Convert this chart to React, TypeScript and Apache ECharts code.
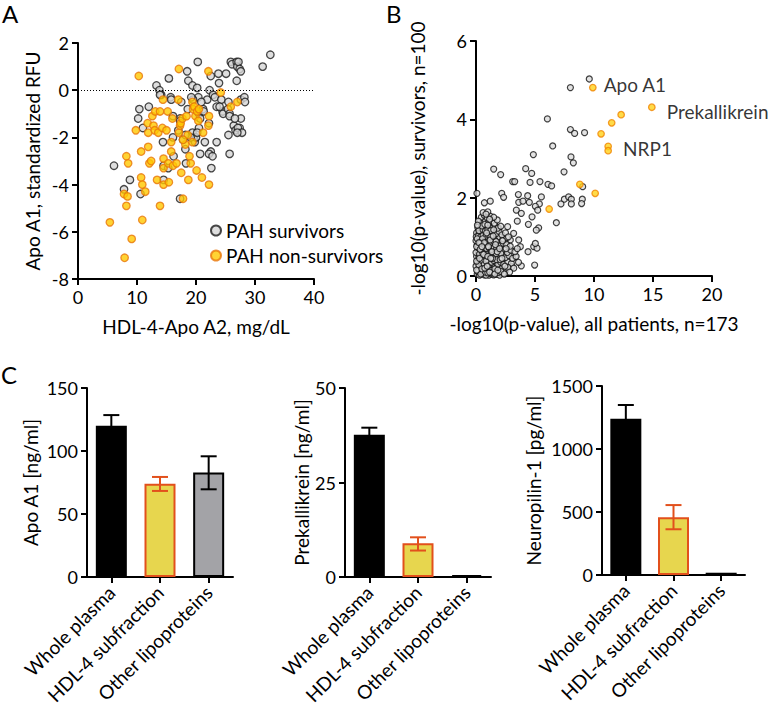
import React, { useEffect, useRef } from 'react';
import * as echarts from 'echarts';

// ---------- Panel A data ----------
const survivorsA: number[][] = [
  [6.1,-3.2],[8.8,-3.8],[7.8,-4.2],[10.6,-4.4],[10.4,-0.8],[10.2,-1.2],[12.0,-0.7],[11.0,-1.6],[13.3,0.2],[13.8,0.0],
  [14.1,-0.2],[15.4,0.5],[15.7,-0.3],[14.4,-2.2],[14.5,-3.2],[14.5,-3.8],[15.3,-3.3],[16.1,-2.0],[16.2,-2.8],[17.3,-1.2],
  [17.3,-1.3],[17.5,-0.5],[17.0,-1.7],[17.8,-2.1],[18.2,-2.5],[18.5,0.8],[18.7,0.4],[18.6,-0.8],[19.4,0.2],[19.4,-1.8],
  [19.7,-2.1],[19.8,-2.2],[20.0,-2.0],[20.2,0.1],[20.3,1.2],[20.4,-0.3],[20.5,-1.0],[20.7,-1.2],[20.5,-1.6],[19.5,-0.4],
  [19.2,-0.3],[17.3,-4.6],[18.3,-3.1],[21.2,-0.8],[21.3,-0.9],[21.5,-2.2],[21.9,-0.4],[22.3,0.0],[22.5,0.6],[22.2,-1.4],
  [22.5,-2.6],[22.2,-2.7],[22.6,-3.3],[22.8,-2.8],[22.9,-0.2],[23.2,-0.3],[23.5,-2.2],[23.8,0.7],[23.9,0.3],[24.3,-0.4],
  [24.5,-0.9],[24.6,-1.0],[25.1,0.7],[25.4,-0.8],[25.5,-0.5],[25.7,-1.0],[25.9,1.2],[26.1,1.1],[25.5,-1.9],[25.7,-1.1],
  [25.7,-2.7],[26.4,-1.5],[26.7,-1.7],[26.9,0.4],[26.9,1.2],[27.0,1.0],[27.2,1.2],[27.4,0.9],[27.6,0.8],[27.4,-1.6],
  [27.1,-1.6],[27.6,-1.2],[27.6,-0.4],[28.2,-0.3],[28.3,-0.5],[27.8,-1.8],[27.0,-1.8],[23.5,-0.7],[31.3,1.0],[32.6,1.5],
  [20.9,-0.5],[24.0,-0.7],[20.7,-2.7],[19.1,-2.0],[18.2,-1.9],[20.2,-1.8],[16.1,-1.1],[13.9,-0.2],[15.8,-0.4],[26.6,-1.2]
];
const nonSurvivorsA: number[][] = [
  [5.4,-5.6],[7.9,-7.1],[9.1,-6.3],[7.8,-4.4],[8.2,-4.9],[8.2,-2.8],[8.5,-3.1],[8.4,-4.5],[10.3,0.6],[9.8,-1.7],
  [10.7,-2.6],[10.7,-3.7],[10.9,-4.0],[11.4,-4.3],[10.9,-5.5],[11.8,-1.4],[11.9,-1.8],[11.9,-2.4],[12.1,-3.1],[12.4,-3.0],
  [12.6,-1.1],[12.8,-1.5],[13.0,-1.7],[13.1,-0.9],[13.6,-1.8],[13.4,-3.8],[13.9,-0.9],[13.9,-4.9],[14.4,-0.4],[14.3,-1.6],
  [14.5,-2.9],[14.5,-3.3],[14.5,-4.0],[15.2,-0.9],[15.0,-1.7],[15.3,-3.1],[15.4,-3.9],[15.8,-2.2],[16.0,-1.2],[15.8,-2.6],
  [16.1,-3.2],[16.7,-3.1],[17.1,0.9],[17.0,-0.4],[17.1,-1.8],[17.3,-1.5],[17.4,-1.4],[17.7,-1.2],[17.8,-4.6],[17.5,-3.5],
  [18.2,-2.3],[18.4,-1.1],[18.6,-1.9],[18.7,-3.8],[18.9,-2.8],[19.1,-3.1],[19.4,-0.5],[19.5,-0.8],[19.7,-0.7],[19.9,-1.1],
  [20.2,-0.9],[20.5,-0.8],[20.4,-1.3],[20.1,-3.4],[21.2,-1.8],[22.1,0.8],[22.2,-1.1],[22.1,-1.5],[22.2,-4.0],[21.0,-3.7],
  [24.2,-0.1],[25.9,-0.7],[27.0,-0.5],[17.8,-2.1],[19.4,-2.2]
];
const xTicksA = [0, 40, 10];
const yTicksA = [-8, 2, 2];

// ---------- Panel B data ----------
const otherProteinsB: number[][] = [
  [9.6,5.03],[8.0,4.81],[6.05,4.01],[8.0,3.74],[8.36,3.64],[9.2,3.66],[6.5,3.32],[4.86,3.1],[8.05,3.04],[8.25,2.89],
  [7.46,2.66],[1.5,2.73],[2.09,2.59],[4.21,2.74],[4.72,2.62],[4.58,2.39],[5.42,2.41],[6.1,2.34],[6.41,2.3],[3.11,2.41],
  [3.28,2.41],[2.18,2.11],[2.34,2.01],[3.59,2.08],[4.38,2.05],[4.52,1.88],[3.62,1.88],[3.98,1.91],[5.37,1.84],[5.03,1.78],
  [5.23,1.68],[5.54,2.02],[3.42,1.68],[3.84,1.6],[3.5,1.4],[4.44,1.32],[5.31,1.23],[5.11,1.17],[4.75,1.51],[4.89,0.75],
  [5.17,0.71],[5.03,0.83],[4.97,0.28],[3.84,0.26],[4.41,0.62],[6.81,1.36],[7.2,1.84],[7.49,1.96],[7.85,2.02],[8.08,1.96],
  [8.08,1.84],[9.01,1.96],[8.95,1.85],[9.04,2.28],[0.71,1.87],[1.21,1.91],[0.08,2.11],[2.68,1.26],[3.19,1.09],[1.92,1.22],
  [2.91,0.92],[3.62,0.92],[3.76,0.75],[3.33,0.49],[3.05,0.24],
  [0.1,0.05],[0.3,0.02],[0.5,0.08],[0.7,0.03],[0.9,0.06],[1.1,0.02],[1.3,0.05],[1.5,0.03],[1.8,0.04],[2.0,0.02],
  [0.2,0.18],[0.45,0.22],[0.65,0.15],[0.85,0.2],[1.05,0.17],[1.25,0.24],[1.45,0.15],[1.7,0.21],[1.95,0.16],[2.2,0.2],
  [2.5,0.14],[0.1,0.33],[0.35,0.36],[0.55,0.3],[0.75,0.38],[1.0,0.32],[1.2,0.4],[1.4,0.31],[1.6,0.37],[1.85,0.3],
  [2.1,0.35],[2.35,0.3],[2.7,0.36],[3.0,0.32],[0.05,0.5],[0.25,0.47],[0.5,0.52],[0.7,0.45],[0.9,0.55],[1.15,0.48],
  [1.35,0.53],[1.55,0.46],[1.75,0.51],[2.0,0.49],[2.25,0.55],[2.5,0.47],[2.8,0.52],[3.1,0.45],[3.4,0.5],[0.15,0.65],
  [0.4,0.62],[0.6,0.68],[0.8,0.6],[1.0,0.66],[1.2,0.63],[1.45,0.7],[1.65,0.61],[1.9,0.67],[2.15,0.62],[2.4,0.68],
  [2.65,0.6],[2.95,0.66],[3.3,0.62],[0.1,0.8],[0.3,0.77],[0.55,0.83],[0.75,0.76],[0.95,0.82],[1.15,0.78],[1.35,0.85],
  [1.55,0.79],[1.8,0.83],[2.05,0.77],[2.3,0.84],[2.6,0.8],[2.9,0.76],[0.2,0.95],[0.45,0.92],[0.65,0.98],[0.9,0.93],
  [1.1,0.99],[1.3,0.92],[1.5,0.97],[1.75,0.94],[2.0,1.0],[2.3,0.95],[2.6,0.98],[0.05,1.1],[0.3,1.08],[0.5,1.13],
  [0.75,1.07],[0.95,1.12],[1.2,1.06],[1.45,1.11],[1.7,1.08],[1.95,1.14],[2.2,1.05],[2.5,1.1],[0.15,1.24],[0.4,1.22],
  [0.65,1.28],[0.9,1.21],[1.1,1.26],[1.35,1.23],[1.6,1.3],[1.85,1.22],[2.1,1.27],[0.3,1.38],[0.55,1.36],[0.8,1.42],
  [1.05,1.37],[1.3,1.4],[1.55,1.35],[1.8,1.43],[0.45,1.5],[0.7,1.55],[0.95,1.49],[1.2,1.53],[1.5,1.5],[0.6,1.62],
  [1.0,1.64],[0.35,0.12],[0.6,0.42],[1.3,0.12],[1.7,0.1],[2.3,0.08],[2.7,0.22],[3.2,0.2],[3.6,0.35],[0.0,0.25],
  [0.0,0.6],[0.0,0.9],[0.02,1.0],[0.85,0.02],[1.6,0.9],[2.45,0.25],[2.85,0.1],[3.5,0.7],[2.75,1.0],[1.95,0.55],
  [0.15,0.12],[0.4,0.05],[0.6,0.25],[0.8,0.1],[1.0,0.08],[1.2,0.15],[1.4,0.08],[1.6,0.18],[1.9,0.09],[2.1,0.12],
  [0.25,0.28],[0.5,0.4],[0.7,0.3],[0.95,0.42],[1.1,0.28],[1.3,0.35],[1.5,0.4],[1.75,0.42],[2.05,0.42],[0.3,0.56],
  [0.55,0.6],[0.8,0.5],[1.05,0.58],[1.25,0.55],[1.5,0.6],[1.7,0.57],[2.1,0.58],[0.2,0.72],[0.45,0.7],[0.7,0.72],
  [0.9,0.7],[1.1,0.72],[1.3,0.68],[1.55,0.73],[1.75,0.7],[0.35,0.88],[0.6,0.88],[0.85,0.87],[1.05,0.9],[1.25,0.86],
  [1.45,0.9],[1.7,0.88],[0.2,1.02],[0.4,1.0],[0.6,1.04],[0.85,1.02],[1.05,1.05],[1.25,1.0],[0.25,1.16],[0.6,1.18],
  [0.8,1.15],[1.0,1.18],[1.25,1.16],[1.5,1.18],[0.5,1.28],[0.75,1.32],[1.0,1.3],[0.2,1.4],[1.15,1.45],[0.85,1.58],
  [0.05,0.15],[0.05,0.38],[0.05,0.75],[0.1,0.95],[0.12,1.3],[0.3,0.45],[0.35,0.68],[0.4,0.85],[0.5,0.18],[0.55,0.95],
  [0.65,0.55],[0.7,0.85],[0.75,0.2],[0.85,0.38],[0.9,1.1],[1.0,0.5],[1.05,0.75],[1.15,0.1],[1.2,0.92],[1.35,0.62],
  [1.4,0.45],[1.45,1.02],[1.6,0.05],[1.65,0.8],[1.8,0.62],[1.85,0.15],[2.0,0.7],[2.2,0.45],[2.25,0.9],[2.4,0.05],
  [2.55,0.7],[0.25,0.85],[0.5,0.75],[0.95,0.25],[1.25,0.45]
];
const hdlProteinsB: number[][] = [
  [9.9,4.81],[14.9,4.31],[12.3,4.12],[11.5,3.91],[10.6,3.63],[11.2,3.31],[11.2,3.2],[8.8,2.34],[10.1,2.11],[6.2,1.71]
];
const labelsB: (string | null)[] = ['Apo A1','Prekallikrein',null,null,null,'NRP1',null,null,null,null];

// ---------- Panel C data ----------
const fractions = ['Whole plasma', 'HDL-4 subfraction', 'Other lipoproteins'];
const apoA1Mean = [120, 74, 83];
const apoA1Low = [111, 68.3, 69.6];
const apoA1High = [128.5, 79.4, 95.8];
const prekMean = [37.6, 8.9, 0.5];
const prekLow = [35.7, 7.0, 0.5];
const prekHigh = [39.5, 10.5, 0.5];
const nrp1Mean = [1240, 458, 18];
const nrp1Low = [1130, 363, 18];
const nrp1High = [1349, 555, 18];

const FONT = 'Lato';
const NAME_SIZE = 19;
const TICK_SIZE = 18;
const barFill = ['#000000', '#e7d64e', '#a3a3a7'];
const barBorder = ['#000000', '#e2501c', '#000000'];

function valueAxis(gridIndex: number, min: number, max: number, interval: number, name: string, nameGap: number) {
  return {
    type: 'value', gridIndex, min, max, interval, name, nameLocation: 'middle', nameGap,
    nameTextStyle: { fontFamily: FONT, fontSize: NAME_SIZE, color: '#000' },
    axisLine: { show: true, onZero: false, lineStyle: { color: '#000', width: 2 } },
    axisTick: { show: true, length: 6, lineStyle: { color: '#000', width: 2 } },
    axisLabel: { fontFamily: FONT, fontSize: TICK_SIZE, color: '#000', margin: 9, formatter: (v: number) => String(v) },
    splitLine: { show: false },
  };
}

function catAxis(gridIndex: number) {
  return {
    type: 'category', gridIndex, data: fractions,
    axisLine: { show: true, lineStyle: { color: '#000', width: 2 } },
    axisTick: { show: true, alignWithLabel: true, length: 6, lineStyle: { color: '#000', width: 2 } },
    axisLabel: { fontFamily: FONT, fontSize: 19, color: '#000', rotate: 45, margin: 12, interval: 0 },
    splitLine: { show: false },
  };
}

function barSeries(idx: number, means: number[]) {
  return {
    type: 'bar', xAxisIndex: idx, yAxisIndex: idx, barWidth: 31,
    data: means.map((v, i) => ({
      value: v,
      itemStyle: { color: barFill[i], borderColor: barBorder[i], borderWidth: 2 },
    })),
  };
}

function errSeries(idx: number, lows: number[], highs: number[]) {
  return {
    type: 'custom', xAxisIndex: idx, yAxisIndex: idx, z: 5,
    data: lows.map((l, i) => [i, l, highs[i]]),
    encode: { x: 0, y: [1, 2] },
    renderItem: (params: any, api: any) => {
      const i = api.value(0);
      const pLo = api.coord([i, api.value(1)]);
      const pHi = api.coord([i, api.value(2)]);
      if (Math.abs(pLo[1] - pHi[1]) < 0.5) return { type: 'group', children: [] };
      const half = 8;
      const st = { stroke: barBorder[params.dataIndex], lineWidth: 2 };
      return {
        type: 'group',
        children: [
          { type: 'line', shape: { x1: pHi[0], y1: pHi[1], x2: pLo[0], y2: pLo[1] }, style: st },
          { type: 'line', shape: { x1: pHi[0] - half, y1: pHi[1], x2: pHi[0] + half, y2: pHi[1] }, style: st },
          { type: 'line', shape: { x1: pLo[0] - half, y1: pLo[1], x2: pLo[0] + half, y2: pLo[1] }, style: st },
        ],
      };
    },
  };
}

export default function App() {
  const ref = useRef<HTMLDivElement>(null);
  useEffect(() => {
    if (!ref.current) return;
    const chart = echarts.init(ref.current, null, { renderer: 'svg' });
    const greyStyle = { color: '#d6d6d6', borderColor: '#1a1a1a', borderWidth: 1.3 };
    const orangeStyle = { color: '#ffc800', borderColor: '#e8760a', borderWidth: 1.3 };
    const labelStyle = { fontFamily: FONT, fontSize: NAME_SIZE, color: '#000' };
    const option: any = {
      animation: false,
      backgroundColor: '#ffffff',
      textStyle: { fontFamily: FONT },
      grid: [
        { left: 78, top: 43, width: 236, height: 236, containLabel: false, outerBoundsMode: 'none' },
        { left: 476, top: 41, width: 236, height: 235, containLabel: false, outerBoundsMode: 'none' },
        { left: 87, top: 388, width: 146, height: 189, containLabel: false, outerBoundsMode: 'none' },
        { left: 345, top: 388, width: 146, height: 189, containLabel: false, outerBoundsMode: 'none' },
        { left: 602, top: 386, width: 143, height: 189, containLabel: false, outerBoundsMode: 'none' },
      ],
      xAxis: [
        valueAxis(0, xTicksA[0], xTicksA[1], xTicksA[2], 'HDL-4-Apo A2, mg/dL', 38),
        valueAxis(1, 0, 20, 5, '-log10(p-value), all patients, n=173', 38),
        catAxis(2), catAxis(3), catAxis(4),
      ],
      yAxis: [
        valueAxis(0, yTicksA[0], yTicksA[1], yTicksA[2], 'Apo A1, standardized RFU', 36),
        valueAxis(1, 0, 6, 2, '-log10(p-value), survivors, n=100', 49),
        valueAxis(2, 0, 150, 50, 'Apo A1 [ng/ml]', 47),
        valueAxis(3, 0, 50, 25, 'Prekallikrein [ng/ml]', 28),
        valueAxis(4, 0, 1500, 500, 'Neuropilin-1 [pg/ml]', 59),
      ],
      legend: {
        orient: 'vertical', left: 205, top: 216, itemWidth: 10, itemHeight: 10, itemGap: 6,
        textStyle: labelStyle,
        data: ['PAH survivors', 'PAH non-survivors'],
        selectedMode: false,
      },
      series: [
        {
          name: 'PAH survivors', type: 'scatter', xAxisIndex: 0, yAxisIndex: 0,
          symbol: 'circle', symbolSize: 7.5, itemStyle: greyStyle, data: survivorsA,
          markLine: {
            silent: true, symbol: 'none', label: { show: false },
            lineStyle: { color: '#000', type: [1, 2], width: 1 },
            data: [{ yAxis: 0 }],
          },
        },
        {
          name: 'PAH non-survivors', type: 'scatter', xAxisIndex: 0, yAxisIndex: 0,
          symbol: 'circle', symbolSize: 7.5, itemStyle: orangeStyle, data: nonSurvivorsA,
        },
        {
          name: 'other proteins', type: 'scatter', xAxisIndex: 1, yAxisIndex: 1,
          symbol: 'circle', symbolSize: 6, itemStyle: { color: '#dcdcdc', borderColor: '#111111', borderWidth: 1.2 },
          data: otherProteinsB,
        },
        {
          name: 'HDL proteins', type: 'scatter', xAxisIndex: 1, yAxisIndex: 1,
          symbol: 'circle', symbolSize: 6.5, itemStyle: { color: '#ffd21a', borderColor: '#f08400', borderWidth: 1.3 },
          data: hdlProteinsB.map((p, i) => labelsB[i] ? {
            value: p,
            label: {
              show: true, formatter: labelsB[i], position: 'right', distance: labelsB[i] === 'Apo A1' ? 7 : 11,
              offset: labelsB[i] === 'Apo A1' ? [0, -3] : labelsB[i] === 'NRP1' ? [0, 2] : [0, 4],
              ...labelStyle,
            },
          } : { value: p }),
        },
        barSeries(2, apoA1Mean), errSeries(2, apoA1Low, apoA1High),
        barSeries(3, prekMean), errSeries(3, prekLow, prekHigh),
        barSeries(4, nrp1Mean), errSeries(4, nrp1Low, nrp1High),
      ],
      graphic: [
        { type: 'text', left: 2, top: 1, style: { text: 'A', fontFamily: FONT, fontSize: 24, fill: '#000' } },
        { type: 'text', left: 386, top: 1, style: { text: 'B', fontFamily: FONT, fontSize: 24, fill: '#000' } },
        { type: 'text', left: 1, top: 362, style: { text: 'C', fontFamily: FONT, fontSize: 24, fill: '#000' } },
      ],
    };
    chart.setOption(option);
    return () => chart.dispose();
  }, []);
  return <div ref={ref} style={{ position: 'fixed', left: 0, top: 0, width: 768, height: 706, background: '#fff' }} />;
}
